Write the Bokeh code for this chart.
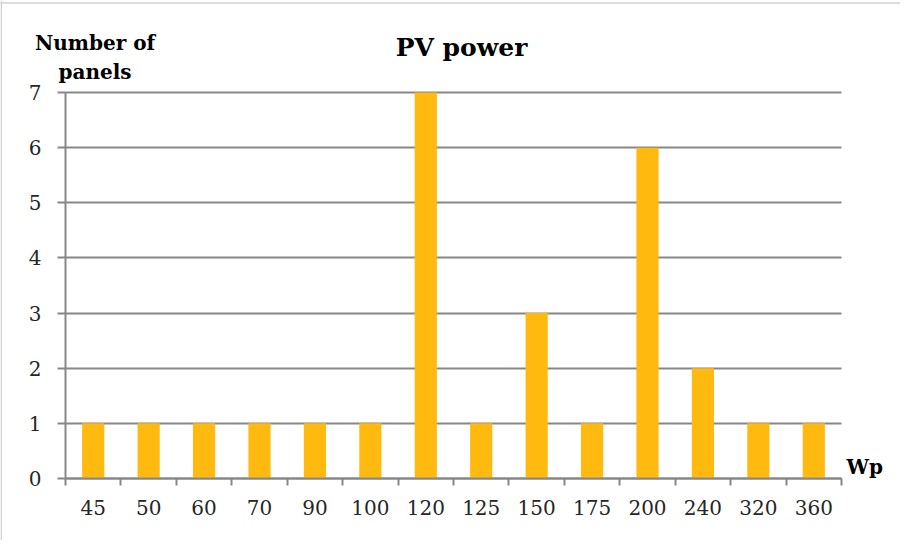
from bokeh.plotting import figure
from bokeh.models import Range1d, FixedTicker, Label, Span, Grid
from bokeh.embed import file_html
from bokeh.resources import INLINE

# ---- data ----
categories = ["45", "50", "60", "70", "90", "100", "120", "125", "150", "175", "200", "240", "320", "360"]
counts = [1, 1, 1, 1, 1, 1, 7, 1, 3, 1, 6, 2, 1, 1]
y_ticks = [0, 1, 2, 3, 4, 5, 6, 7]
title_text = "PV power"
y_label_lines = ["Number of", "panels"]
x_label = "Wp"

# ---- styling / layout (page pixels) ----
BAR = "#FFB90F"
GRID = "#878787"
TXT = "#262626"
FONT = "DejaVu Serif"

FIG_X0, FIG_Y0 = 8, 8
W, H = 900, 540
AX_LEFT, AX_RIGHT = 73, 849
Y0_PX, YTOP_PX = 486, 100

n = len(categories)
ymax = max(y_ticks)
sx = (AX_RIGHT - AX_LEFT) / n
sy = (Y0_PX - YTOP_PX) / ymax


def dx(px):
    return (px - AX_LEFT) / sx


def dy(py):
    return (Y0_PX - py) / sy


centers = [i + 0.5 for i in range(n)]
bounds = list(range(n + 1))

p = figure(width=W, height=H, output_backend="svg", toolbar_location=None,
           x_range=Range1d(dx(FIG_X0), dx(FIG_X0 + W)),
           y_range=Range1d(dy(FIG_Y0 + H), dy(FIG_Y0)),
           min_border=0, min_border_left=0, min_border_right=0,
           min_border_top=0, min_border_bottom=0)
p.outline_line_color = None
p.background_fill_color = "white"
p.border_fill_color = "white"

# chart frame border (top and left edges visible in the reference)
p.add_layout(Span(location=dy(10.5), dimension="width", line_color="#d0d0d0", line_width=1.5))
p.add_layout(Span(location=dx(8.7), dimension="height", line_color="#d0d0d0", line_width=1.5))

# grid
p.xgrid.visible = False
if "cross_bounds" in Grid.properties():
    p.ygrid.ticker = FixedTicker(ticks=y_ticks)
    p.ygrid.cross_bounds = (0, n)
    p.ygrid.grid_line_color = GRID
    p.ygrid.grid_line_width = 2
else:
    p.ygrid.visible = False
    p.segment(x0=[0] * len(y_ticks), x1=[n] * len(y_ticks), y0=y_ticks, y1=y_ticks,
              line_color=GRID, line_width=2)

p.vbar(x=centers, top=counts, width=0.4, color=BAR, line_color=None)

# x axis
xa = p.xaxis[0]
xa.fixed_location = 0
xa.bounds = (0, n)
xa.ticker = FixedTicker(ticks=centers, minor_ticks=bounds)
xa.major_label_overrides = {c: lab for c, lab in zip(centers, categories)}
xa.major_tick_in = 0
xa.major_tick_out = 0
xa.minor_tick_in = 0
xa.minor_tick_out = 7
xa.minor_tick_line_color = GRID
xa.minor_tick_line_width = 2
xa.axis_line_color = GRID
xa.axis_line_width = 2
xa.major_label_standoff = 14
xa.major_label_text_font = FONT
xa.major_label_text_font_size = "20px"
xa.major_label_text_color = TXT

# y axis
ya = p.yaxis[0]
ya.fixed_location = 0
ya.bounds = (0, ymax)
ya.ticker = FixedTicker(ticks=y_ticks)
ya.major_tick_in = 0
ya.major_tick_out = 8
ya.minor_tick_line_color = None
ya.major_tick_line_color = GRID
ya.major_tick_line_width = 2
ya.axis_line_color = GRID
ya.axis_line_width = 2
ya.major_label_standoff = 16
ya.major_label_text_font = FONT
ya.major_label_text_font_size = "20px"
ya.major_label_text_color = TXT

# texts
def add_text(txt, px, py, size, align):
    p.add_layout(Label(x=dx(px), y=dy(py), text=txt, text_align=align,
                       text_baseline="alphabetic", text_font=FONT, text_font_style="bold",
                       text_font_size=size, text_color="black"))


add_text(title_text, 469, 55, "25px", "center")
add_text(y_label_lines[0], 102.5, 50, "20px", "center")
add_text(y_label_lines[1], 102.5, 79, "20px", "center")
add_text(x_label, 854, 474, "20px", "left")

open("out.html", "w").write(file_html(p, INLINE))
